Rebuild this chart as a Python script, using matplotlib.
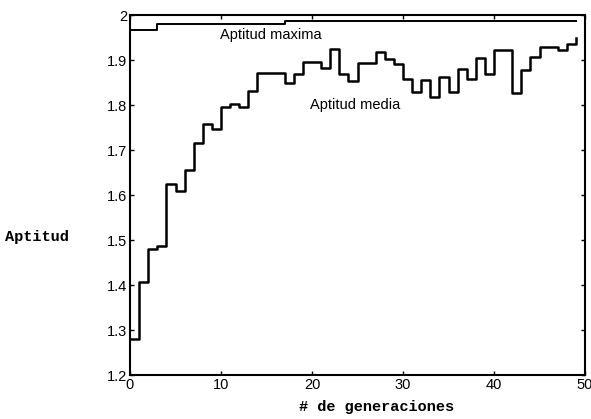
import numpy as np
import matplotlib.pyplot as plt

# generaciones 0..49
generaciones = np.arange(50)

# aptitud media por generacion
aptitud_media = [1.280, 1.407, 1.480, 1.487, 1.624, 1.609, 1.656, 1.716, 1.758, 1.747,
                 1.796, 1.802, 1.796, 1.831, 1.872, 1.872, 1.872, 1.850, 1.870, 1.895,
                 1.895, 1.882, 1.924, 1.870, 1.853, 1.894, 1.894, 1.918, 1.902, 1.892,
                 1.857, 1.828, 1.855, 1.818, 1.862, 1.828, 1.880, 1.858, 1.904, 1.868,
                 1.922, 1.922, 1.826, 1.878, 1.907, 1.928, 1.928, 1.922, 1.935, 1.950]

# aptitud maxima por generacion
aptitud_maxima = [1.967] * 3 + [1.980] * 14 + [1.987] * 33

yticks = [1.2, 1.3, 1.4, 1.5, 1.6, 1.7, 1.8, 1.9, 2.0]
ytick_labels = ['1.2', '1.3', '1.4', '1.5', '1.6', '1.7', '1.8', '1.9', '2']
xticks = [0, 10, 20, 30, 40, 50]

fig = plt.figure(figsize=(5.91, 4.19), dpi=100)
ax = fig.add_axes([130/591, 1 - 375/419, (585 - 130)/591, (375 - 15)/419])

ax.step(generaciones, aptitud_maxima, where='post', color='black', lw=1.4)
ax.step(generaciones, aptitud_media, where='post', color='black', lw=1.8)

ax.set_xlim(0, 50)
ax.set_ylim(1.2, 2.0)
ax.set_xticks(xticks)
ax.set_yticks(yticks)
ax.set_yticklabels(ytick_labels)
ax.tick_params(direction='in', top=True, right=True, length=3, width=1,
               labelsize=10.5, pad=2)
for lab in ax.get_xticklabels() + ax.get_yticklabels():
    lab.set_family('Liberation Sans')
for s in ax.spines.values():
    s.set_linewidth(1.5)

# etiquetas dentro del grafico
ax.text(9.9, 1.956, 'Aptitud maxima', fontsize=10.5, family='Liberation Sans',
        va='center', ha='left')
ax.text(19.8, 1.80, 'Aptitud media', fontsize=10.5, family='Liberation Sans',
        va='center', ha='left')

fig.text(5/591, 1 - 237/419, 'Aptitud', fontsize=11, family='Liberation Mono',
         weight='bold', va='center', ha='left')
fig.text(377/591, 1 - 407/419, '# de generaciones', fontsize=11,
         family='Liberation Mono', weight='bold', va='center', ha='center')

fig.savefig('out.png', dpi=100)
